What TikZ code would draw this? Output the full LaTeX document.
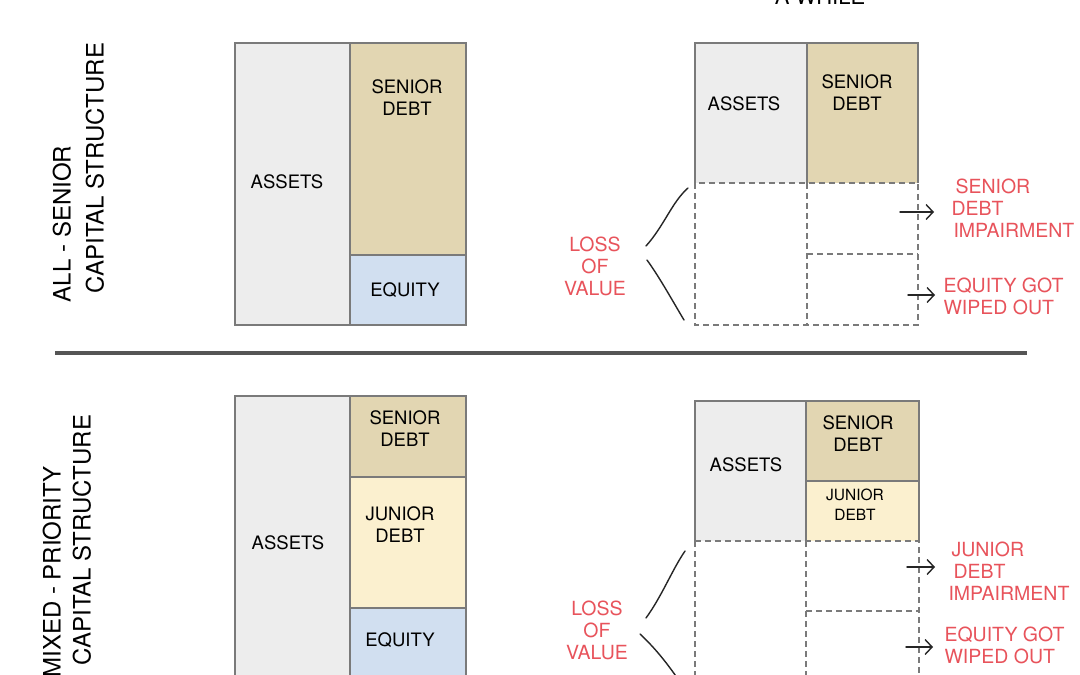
\documentclass[tikz,border=0pt]{standalone}
\usepackage{fontspec}
\setmainfont{TeX Gyre Heros}
\usetikzlibrary{arrows.meta}
\definecolor{assetc}{HTML}{EDEDED}
\definecolor{seniorc}{HTML}{E2D6B2}
\definecolor{juniorc}{HTML}{FBF0CF}
\definecolor{equityc}{HTML}{D1DFF0}
\definecolor{edgec}{HTML}{7A7A7A}
\definecolor{redc}{HTML}{E8535B}
\definecolor{sepc}{HTML}{555555}
\begin{document}
\begin{tikzpicture}[x=1pt,y=-1pt,
  fillbox/.style={inner sep=0pt, outer sep=0pt, anchor=north west, draw=none},
  blk/.style={draw=edgec, line width=1.4pt},
  dashbox/.style={draw=edgec, line width=1.5pt, dash pattern=on 6pt off 4pt},
  lbl/.style={font=\fontsize{18.5}{22}\selectfont, align=center, text=black},
  redlbl/.style={font=\fontsize{19.5}{22}\selectfont, text=redc},
  vlbl/.style={font=\fontsize{24}{26}\selectfont, rotate=90, text=black},
  hand/.style={line width=1.4pt, draw=black!85, line cap=round},
  arr/.style={hand, -{Straight Barb[length=7pt,width=15pt]}}
]
\useasboundingbox (0,0) rectangle (1080,675);
\fill[white] (0,0) rectangle (1080,675);

% cut-off title at the top
\node[anchor=base, font=\fontsize{22}{24}\selectfont, text=black] (title) at (820,4) {A WHILE};

% ---------------- top left ----------------
\node[fillbox, fill=assetc,  minimum width=115pt, minimum height=282pt] (tla) at (235,43) {};
\node[fillbox, fill=seniorc, minimum width=116pt, minimum height=212pt] (tls) at (350,43) {};
\node[fillbox, fill=equityc, minimum width=116pt, minimum height=70pt]  (tle) at (350,255) {};
\draw[blk] (tla.north west) rectangle (tle.south east);
\draw[blk] (tla.north east) -- (tla.south east);
\draw[blk] (tle.north west) -- (tle.north east);
\node[lbl] (tlat) at (287,182) {ASSETS};
\node[lbl] (tlst) at (407,98) {SENIOR\\DEBT};
\node[lbl] (tlet) at (405,290) {EQUITY};

% ---------------- top right ----------------
\node[fillbox, fill=assetc,  minimum width=112pt, minimum height=140pt] (tra) at (695,43) {};
\node[fillbox, fill=seniorc, minimum width=111pt, minimum height=140pt] (trs) at (807,43) {};
\coordinate (trmid) at (807,254);
\coordinate (trbl) at (695,325);
\coordinate (trbr) at (918,325);
\draw[dashbox] (tra.south west) rectangle (trbr);
\draw[dashbox] (tra.south east) -- (807,325);
\draw[dashbox] (trmid) -- (918,254);
\draw[blk] (tra.south west) -- (tra.north west) -- (trs.north east) -- (trs.south east);
\draw[blk] (tra.north east) -- (tra.south east);
\node[lbl] (trat) at (744,104) {ASSETS};
\node[lbl] (trst) at (857,93) {SENIOR\\DEBT};

% loss of value (top)
\node[redlbl, align=center] (tloss) at (595,266) {LOSS\\OF\\VALUE};
\coordinate (tb1) at (688,188);
\coordinate (tb2) at (646,246);
\coordinate (tb3) at (647,260);
\coordinate (tb4) at (684,320);
\draw[hand] (tb1) .. controls (672,202) and (664,226) .. (tb2);
\draw[hand] (tb3) .. controls (660,278) and (672,300) .. (tb4);

% arrows and labels (top)
\coordinate (ta1s) at (900,212); \coordinate (ta1e) at (934,212);
\coordinate (ta2s) at (908,295); \coordinate (ta2e) at (935,295);
\draw[arr] (ta1s) -- (ta1e);
\draw[arr] (ta2s) -- (ta2e);
\node[redlbl, anchor=west, align=left] (tsdi) at (948,208) {\hspace{4pt}SENIOR\\DEBT\\\hspace{2pt}IMPAIRMENT};
\node[redlbl, anchor=west, align=left] (tegw) at (940,296) {EQUITY GOT\\WIPED OUT};

% vertical label top
\node[vlbl] (tv1) at (62,224) {ALL - SENIOR};
\node[vlbl] (tv2) at (95,168) {CAPITAL STRUCTURE};

% separator
\coordinate (sepl) at (55,353);
\coordinate (sepr) at (1027,353);
\draw[line width=4pt, sepc] (sepl) -- (sepr);

% ---------------- bottom left ----------------
\node[fillbox, fill=assetc,  minimum width=115pt, minimum height=300pt] (bla) at (235,396) {};
\node[fillbox, fill=seniorc, minimum width=116pt, minimum height=81pt]  (bls) at (350,396) {};
\node[fillbox, fill=juniorc, minimum width=116pt, minimum height=131pt] (blj) at (350,477) {};
\node[fillbox, fill=equityc, minimum width=116pt, minimum height=88pt]  (ble) at (350,608) {};
\draw[blk] (bla.north west) rectangle (466,696);
\draw[blk] (bla.north east) -- (bla.south east);
\draw[blk] (blj.north west) -- (blj.north east);
\draw[blk] (ble.north west) -- (ble.north east);
\node[lbl] (blat) at (288,543) {ASSETS};
\node[lbl] (blst) at (405,429) {SENIOR\\DEBT};
\node[lbl] (bljt) at (400,525) {JUNIOR\\DEBT};
\node[lbl] (blet) at (400,640) {EQUITY};

% ---------------- bottom right ----------------
\node[fillbox, fill=assetc,  minimum width=111pt, minimum height=140pt] (bra) at (695,401) {};
\node[fillbox, fill=seniorc, minimum width=113pt, minimum height=80pt]  (brs) at (806,401) {};
\node[fillbox, fill=juniorc, minimum width=113pt, minimum height=60pt]  (brj) at (806,481) {};
\coordinate (brmid) at (806,611);
\draw[dashbox] (bra.south west) -- (695,690);
\draw[dashbox] (bra.south west) -- (brj.south east) -- (919,690);
\draw[dashbox] (bra.south east) -- (806,690);
\draw[dashbox] (brmid) -- (919,611);
\draw[blk] (bra.south west) -- (bra.north west) -- (brs.north east) -- (brj.south east);
\draw[blk] (bra.north east) -- (bra.south east);
\draw[blk] (brs.south west) -- (brs.south east);
\node[lbl] (brat) at (746,465) {ASSETS};
\node[lbl] (brst) at (858,434) {SENIOR\\DEBT};
\node[lbl, font=\fontsize{15.5}{20}\selectfont] (brjt) at (855,505) {JUNIOR\\DEBT};

% loss of value (bottom)
\node[redlbl, align=center] (bloss) at (597,630) {LOSS\\OF\\VALUE};
\coordinate (bb1) at (685,551);
\coordinate (bb2) at (646,618);
\coordinate (bb3) at (640,634);
\coordinate (bb4) at (682,685);
\draw[hand] (bb1) .. controls (672,570) and (662,596) .. (bb2);
\draw[hand] (bb3) .. controls (655,648) and (668,664) .. (bb4);

% arrows and labels (bottom)
\coordinate (ba1s) at (907,567); \coordinate (ba1e) at (935,567);
\coordinate (ba2s) at (906,647); \coordinate (ba2e) at (933,647);
\draw[arr] (ba1s) -- (ba1e);
\draw[arr] (ba2s) -- (ba2e);
\node[redlbl, anchor=west, align=left] (bjdi) at (945,571) {\hspace{3pt}JUNIOR\\\hspace{5pt}DEBT\\IMPAIRMENT};
\node[redlbl, anchor=west, align=left] (begw) at (941,645) {EQUITY GOT\\WIPED OUT};

% vertical label bottom
\node[vlbl] (bv1) at (52,572) {MIXED - PRIORITY};
\node[vlbl] (bv2) at (82,540) {CAPITAL STRUCTURE};
\end{tikzpicture}
\end{document}
